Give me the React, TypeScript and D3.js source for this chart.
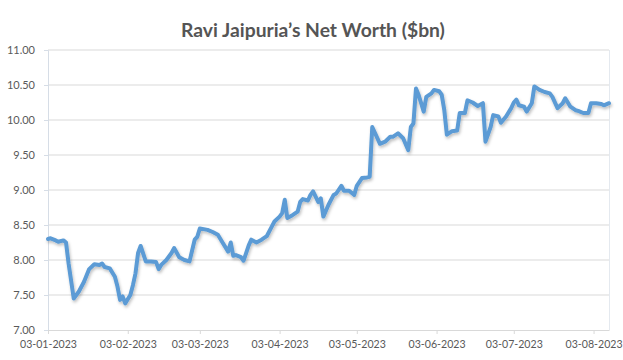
import React, { useEffect, useRef } from 'react'
import * as d3 from 'd3'

// net worth readings, $bn
const dates = [
  '2023-01-03', '2023-01-04', '2023-01-06', '2023-01-07', '2023-01-09', '2023-01-10', '2023-01-11', '2023-01-13',
  '2023-01-15', '2023-01-17', '2023-01-19', '2023-01-21', '2023-01-23', '2023-01-24', '2023-01-25', '2023-01-27',
  '2023-01-29', '2023-01-30', '2023-01-31', '2023-02-01', '2023-02-02', '2023-02-04', '2023-02-05', '2023-02-06',
  '2023-02-07', '2023-02-08', '2023-02-10', '2023-02-12', '2023-02-14', '2023-02-15', '2023-02-16', '2023-02-18',
  '2023-02-20', '2023-02-21', '2023-02-23', '2023-02-25', '2023-02-27', '2023-03-01', '2023-03-02', '2023-03-03',
  '2023-03-06', '2023-03-08', '2023-03-10', '2023-03-12', '2023-03-14', '2023-03-15', '2023-03-16', '2023-03-17',
  '2023-03-19', '2023-03-20', '2023-03-22', '2023-03-23', '2023-03-25', '2023-03-27', '2023-03-29', '2023-03-31',
  '2023-04-01', '2023-04-03', '2023-04-04', '2023-04-05', '2023-04-06', '2023-04-08', '2023-04-10', '2023-04-11',
  '2023-04-12', '2023-04-14', '2023-04-15', '2023-04-16', '2023-04-18', '2023-04-19', '2023-04-20', '2023-04-22',
  '2023-04-24', '2023-04-25', '2023-04-27', '2023-04-28', '2023-04-30', '2023-05-02', '2023-05-03', '2023-05-05',
  '2023-05-07', '2023-05-08', '2023-05-09', '2023-05-12', '2023-05-14', '2023-05-16', '2023-05-17', '2023-05-19',
  '2023-05-21', '2023-05-23', '2023-05-24', '2023-05-25', '2023-05-26', '2023-05-27', '2023-05-28', '2023-05-29',
  '2023-05-30', '2023-06-01', '2023-06-02', '2023-06-04', '2023-06-05', '2023-06-06', '2023-06-07', '2023-06-09',
  '2023-06-11', '2023-06-12', '2023-06-14', '2023-06-15', '2023-06-17', '2023-06-19', '2023-06-21', '2023-06-22',
  '2023-06-24', '2023-06-25', '2023-06-27', '2023-06-28', '2023-06-30', '2023-07-02', '2023-07-03', '2023-07-04',
  '2023-07-05', '2023-07-07', '2023-07-08', '2023-07-10', '2023-07-11', '2023-07-13', '2023-07-15', '2023-07-17',
  '2023-07-18', '2023-07-20', '2023-07-22', '2023-07-23', '2023-07-25', '2023-07-27', '2023-07-28', '2023-07-30',
  '2023-08-01', '2023-08-02', '2023-08-04', '2023-08-06', '2023-08-07', '2023-08-09',
]
const netWorth = [
  8.30, 8.31, 8.28, 8.26, 8.28, 8.25, 7.95, 7.45,
  7.55, 7.69, 7.87, 7.94, 7.93, 7.95, 7.90, 7.88,
  7.76, 7.62, 7.43, 7.48, 7.38, 7.50, 7.64, 7.81,
  8.10, 8.20, 7.98, 7.98, 7.97, 7.87, 7.93, 8.00,
  8.10, 8.17, 8.04, 8.00, 7.98, 8.29, 8.33, 8.45,
  8.43, 8.40, 8.36, 8.24, 8.12, 8.25, 8.06, 8.07,
  8.04, 7.99, 8.21, 8.29, 8.25, 8.29, 8.34, 8.48,
  8.55, 8.62, 8.67, 8.86, 8.60, 8.64, 8.69, 8.83,
  8.87, 8.85, 8.93, 8.98, 8.83, 8.88, 8.62, 8.79,
  8.93, 8.95, 9.06, 8.99, 8.99, 8.93, 9.06, 9.17,
  9.18, 9.19, 9.90, 9.66, 9.69, 9.76, 9.76, 9.81,
  9.74, 9.57, 9.90, 9.95, 10.45, 10.36, 10.24, 10.12,
  10.33, 10.38, 10.43, 10.41, 10.36, 10.14, 9.79, 9.84,
  9.85, 10.10, 10.10, 10.28, 10.25, 10.20, 10.24, 9.69,
  9.90, 10.07, 10.05, 9.96, 10.05, 10.17, 10.25, 10.29,
  10.21, 10.19, 10.12, 10.24, 10.48, 10.43, 10.40, 10.38,
  10.33, 10.17, 10.24, 10.31, 10.19, 10.14, 10.13, 10.10,
  10.10, 10.24, 10.24, 10.23, 10.21, 10.24,
]
const xTickDates = [
  '2023-01-03', '2023-02-03', '2023-03-03', '2023-04-03',
  '2023-05-03', '2023-06-03', '2023-07-03', '2023-08-03',
]
const yTicks = [7, 7.5, 8, 8.5, 9, 9.5, 10, 10.5, 11]

const title = 'Ravi Jaipuria\u2019s Net Worth ($bn)'

export default function App() {
  const ref = useRef<SVGSVGElement>(null)

  useEffect(() => {
    const w = 623
    const h = 360
    const margin = { top: 50, right: 14, bottom: 30, left: 48 }

    const parse = d3.timeParse('%Y-%m-%d')
    const fmt = d3.timeFormat('%d-%m-%Y')
    const data = dates.map((d, i) => ({ date: parse(d) as Date, value: netWorth[i] }))

    const svg = d3.select(ref.current)
    svg.selectAll('*').remove()

    const x = d3.scaleTime()
      .domain(d3.extent(data, d => d.date) as [Date, Date])
      .range([margin.left, w - margin.right])
    const y = d3.scaleLinear()
      .domain([7, 11])
      .range([h - margin.bottom, margin.top])

    /* title */
    svg.append('text')
      .attr('x', 313)
      .attr('y', 37)
      .attr('text-anchor', 'middle')
      .attr('font-family', 'Lato, "Open Sans", sans-serif')
      .attr('font-weight', 'bold')
      .attr('font-size', 19.3)
      .attr('fill', '#555555')
      .text(title)

    /* gridlines */
    svg.append('g')
      .selectAll('line')
      .data(yTicks.slice(1))
      .enter()
      .append('line')
      .attr('x1', margin.left)
      .attr('x2', w - margin.right)
      .attr('y1', d => y(d))
      .attr('y2', d => y(d))
      .attr('stroke', '#d9d9d9')
      .attr('stroke-width', 1)

    /* y axis */
    const yAxis = svg.append('g')
      .attr('transform', `translate(${margin.left},0)`)
      .call(d3.axisLeft(y).tickValues(yTicks).tickFormat(d3.format('.2f')).tickSize(4).tickPadding(9))
    yAxis.select('.domain').attr('stroke', '#d6dde6')
    yAxis.selectAll('.tick line').attr('stroke', '#d6dde6')
    yAxis.selectAll('text')
      .attr('font-family', 'Lato, sans-serif')
      .attr('font-size', 11)
      .attr('fill', '#595959')

    /* x axis */
    const xAxis = svg.append('g')
      .attr('transform', `translate(0,${h - margin.bottom})`)
      .call(d3.axisBottom(x).tickValues(xTickDates.map(d => parse(d) as Date)).tickFormat(d => fmt(d as Date)).tickSize(4).tickPadding(6).tickSizeOuter(0))
    xAxis.select('.domain').attr('stroke', '#d9d9d9')
    xAxis.selectAll('.tick line').attr('stroke', '#d9d9d9')
    xAxis.selectAll('text')
      .attr('font-family', 'Lato, sans-serif')
      .attr('font-size', 10.6)
      .attr('fill', '#595959')

    /* right edge of plot area */
    svg.append('line')
      .attr('x1', w - margin.right + 0.5)
      .attr('x2', w - margin.right + 0.5)
      .attr('y1', margin.top)
      .attr('y2', h - margin.bottom)
      .attr('stroke', '#e4e9ef')

    /* shadow + line */
    const defs = svg.append('defs')
    const filter = defs.append('filter').attr('id', 'shadow').attr('x', '-5%').attr('y', '-5%').attr('width', '110%').attr('height', '120%')
    filter.append('feDropShadow')
      .attr('dx', 1)
      .attr('dy', 2)
      .attr('stdDeviation', 1.5)
      .attr('flood-color', '#000')
      .attr('flood-opacity', 0.25)

    const line = d3.line<{ date: Date; value: number }>()
      .x(d => x(d.date))
      .y(d => y(d.value))

    svg.append('path')
      .datum(data)
      .attr('d', line)
      .attr('fill', 'none')
      .attr('stroke', '#5b9bd5')
      .attr('stroke-width', 4)
      .attr('stroke-linejoin', 'round')
      .attr('stroke-linecap', 'round')
      .attr('filter', 'url(#shadow)')
  }, [])

  return (
    <svg ref={ref} width={623} height={360}
      style={{ position: 'absolute', left: 0, top: 0, background: '#fff' }} />
  )
}
